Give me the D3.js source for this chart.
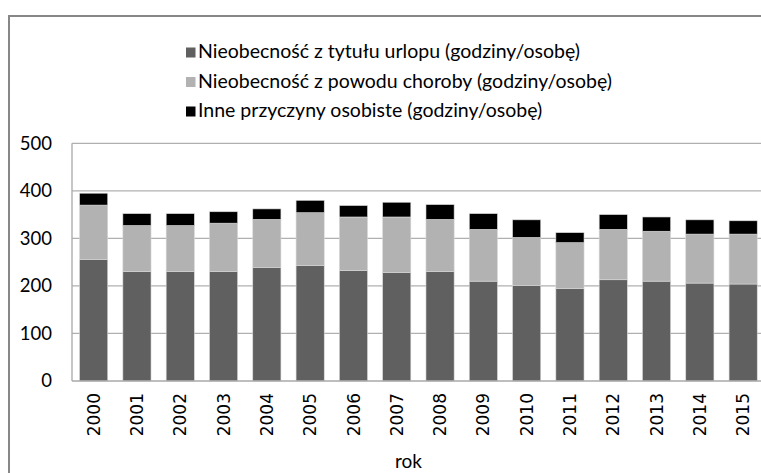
<!DOCTYPE html>
<html>
<head>
<meta charset="utf-8">
<script src="https://cdn.jsdelivr.net/npm/d3@7"></script>
<style>
html,body{margin:0;padding:0;background:#fff;}
svg{display:block;}
</style>
</head>
<body>
<svg id="chart" width="761" height="473"></svg>
<script>
const years = ["2000","2001","2002","2003","2004","2005","2006","2007","2008","2009","2010","2011","2012","2013","2014","2015"];
const vacation = [256, 230, 230, 230, 239, 243, 232, 228, 230, 210, 201, 195, 213, 210, 206, 204];
const sick     = [114,  97,  97, 102, 101, 111, 113, 117, 110, 109, 101,  96, 106, 105, 103, 105];
const other    = [ 25,  25,  25,  24,  22,  26,  24,  31,  31,  33,  37,  21,  31,  30,  30,  28];
const seriesNames = [
  "Nieobecność z tytułu urlopu (godziny/osobę)",
  "Nieobecność z powodu choroby (godziny/osobę)",
  "Inne przyczyny osobiste (godziny/osobę)"
];
const yTicks = [0, 100, 200, 300, 400, 500];
const xTitle = "rok";

(function () {
const colors = ["#606060", "#b2b2b2", "#000000"];
const keys = ["vacation", "sick", "other"];

const svg = d3.select("#chart");

// outer frame
svg.append("rect").attr("x", 9).attr("y", 16).attr("width", 800).attr("height", 500)
  .attr("fill", "none").attr("stroke", "#878787").attr("stroke-width", 2);

const pL = 72, pR = 764.8, pT = 143.3, pB = 381;

const x = d3.scaleBand().domain(years).range([pL, pR]).paddingInner(0.35).paddingOuter(0.175);
const y = d3.scaleLinear().domain([0, 500]).range([pB, pT]);

// gridlines
svg.append("g").selectAll("line").data(yTicks.filter(d => d > 0)).join("line")
  .attr("x1", pL).attr("x2", pR)
  .attr("y1", d => y(d)).attr("y2", d => y(d))
  .attr("stroke", "#b0b0b0").attr("stroke-width", 1.3);

const table = years.map((yr, i) => ({year: yr, vacation: vacation[i], sick: sick[i], other: other[i]}));
const stacked = d3.stack().keys(keys)(table);

svg.append("g").selectAll("g").data(stacked).join("g")
  .attr("fill", (d, i) => colors[i])
  .selectAll("rect").data(d => d).join("rect")
  .attr("x", d => x(d.data.year))
  .attr("width", x.bandwidth())
  .attr("y", d => y(d[1]))
  .attr("height", d => y(d[0]) - y(d[1]))
  .attr("stroke", "#d8d8d8").attr("stroke-width", 0.6);

// axes lines
svg.append("line").attr("x1", pL).attr("x2", pL).attr("y1", pT).attr("y2", pB)
  .attr("stroke", "#a8a8a8").attr("stroke-width", 1.3);
svg.append("line").attr("x1", pL).attr("x2", pR).attr("y1", pB).attr("y2", pB)
  .attr("stroke", "#a8a8a8").attr("stroke-width", 1.3);

// y tick labels
const yAxis = d3.axisLeft(y).tickValues(yTicks).tickSize(0).tickPadding(20);
const yg = svg.append("g").attr("transform", `translate(${pL},0)`).call(yAxis);
yg.select(".domain").remove();
yg.selectAll("text").attr("font-family", "Lato, 'Open Sans', sans-serif").attr("font-size", 18.5).attr("fill", "#000");

// x tick labels (rotated)
const xAxis = d3.axisBottom(x).tickSize(0).tickPadding(0);
const xg = svg.append("g").attr("transform", `translate(0,${pB})`).call(xAxis);
xg.select(".domain").remove();
xg.selectAll("text")
  .attr("font-family", "'DejaVu Sans', sans-serif").attr("font-size", 17).attr("fill", "#000")
  .attr("text-anchor", "end")
  .attr("transform", "translate(0,12) rotate(-90)")
  .attr("x", 0).attr("y", 0).attr("dy", "0.36em");

// x title
svg.append("text").attr("x", 408.5).attr("y", 468).attr("text-anchor", "middle")
  .attr("font-family", "Lato, 'Open Sans', sans-serif").attr("font-size", 19).attr("fill", "#000")
  .text(xTitle);

// legend
const lg = svg.append("g");
const rowY = [58, 87.5, 117];
seriesNames.forEach((name, i) => {
  lg.append("rect").attr("x", 186).attr("y", rowY[i] - 10.5).attr("width", 9.5).attr("height", 10)
    .attr("fill", colors[i]);
  lg.append("text").attr("x", 198).attr("y", rowY[i])
    .attr("font-family", "Lato, 'Open Sans', sans-serif").attr("font-size", 19.5).attr("fill", "#000")
    .text(name);
});
})();
</script>
</body>
</html>
